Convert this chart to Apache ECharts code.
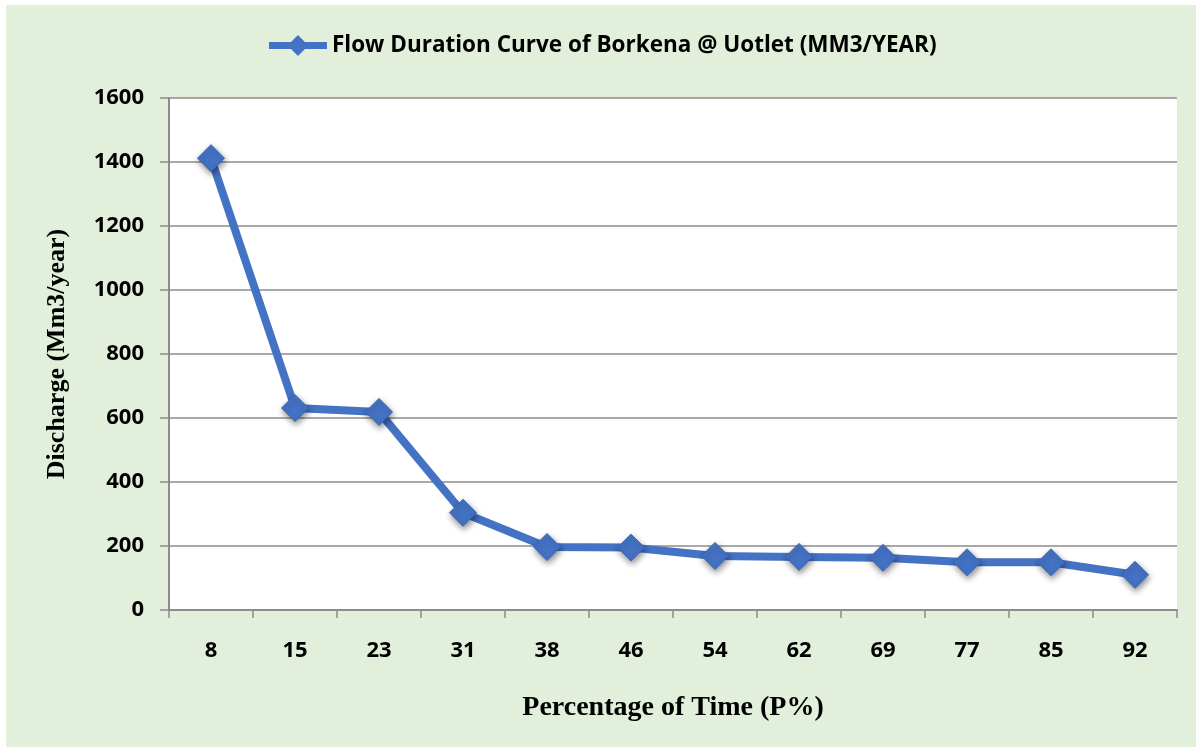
<!DOCTYPE html>
<html>
<head>
<meta charset="utf-8">
<script src="https://cdn.jsdelivr.net/npm/echarts@6/dist/echarts.min.js"></script>
<style>
  html, body { margin: 0; padding: 0; background: #ffffff; }
  #wrap { position: relative; width: 1196px; height: 747px; background: #ffffff; overflow: hidden; }
  #chart { position: absolute; left: 6px; top: 5px; width: 1190px; height: 742px; }
</style>
</head>
<body>
<div id="wrap"><div id="chart"></div></div>
<script>
// Percentage of time the flow is equalled or exceeded
const percentTime = ['8', '15', '23', '31', '38', '46', '54', '62', '69', '77', '85', '92'];
// Discharge at Borkena outlet (Mm3/year)
const discharge = [1412, 631, 619, 304, 197, 195, 169, 166, 163, 149, 149, 110];
// Value-axis range and step
const yMin = 0;
const yMax = 1600;
const yStep = 200;

const seriesName = 'Flow Duration Curve of Borkena @ Uotlet (MM3/YEAR)';
const blue = '#4472C4';
const gridGrey = '#8c8c8c';

const chart = echarts.init(document.getElementById('chart'), null, { renderer: 'canvas' });

chart.setOption({
  backgroundColor: '#E2EFDA',
  animation: false,
  legend: {
    top: 24,
    left: 'center',
    itemWidth: 58,
    itemHeight: 26,
    itemGap: 4,
    data: [seriesName],
    lineStyle: { width: 7, color: blue },
    itemStyle: { color: blue, borderWidth: 0, shadowBlur: 0 },
    textStyle: {
      fontFamily: 'Open Sans',
      fontWeight: 'bold',
      fontSize: 22.5,
      color: '#000000'
    }
  },
  grid: {
    left: 163,
    right: 19,
    top: 93,
    bottom: 137,
    show: true,
    backgroundColor: '#ffffff',
    borderWidth: 0
  },
  xAxis: {
    type: 'category',
    data: percentTime,
    boundaryGap: true,
    name: 'Percentage of Time (P%)',
    nameLocation: 'middle',
    nameGap: 84,
    nameTextStyle: {
      fontFamily: 'Liberation Serif',
      fontWeight: 'bold',
      fontSize: 28,
      color: '#000000'
    },
    axisLine: { show: true, lineStyle: { color: gridGrey, width: 2 } },
    axisTick: { show: true, length: 8, lineStyle: { color: gridGrey, width: 1.5 } },
    axisLabel: {
      margin: 30,
      fontFamily: 'Open Sans',
      fontWeight: 'bold',
      fontSize: 22,
      color: '#000000'
    },
    splitLine: {
      show: true,
      interval: function (index) { return index === 10; },
      lineStyle: { color: '#dce9d4', width: 1 }
    }
  },
  yAxis: {
    type: 'value',
    min: yMin,
    max: yMax,
    interval: yStep,
    name: 'Discharge (Mm3/year)',
    nameLocation: 'middle',
    nameGap: 99,
    nameRotate: 90,
    nameTextStyle: {
      fontFamily: 'Liberation Serif',
      fontWeight: 'bold',
      fontSize: 26,
      color: '#000000'
    },
    axisLine: { show: true, lineStyle: { color: gridGrey, width: 2 } },
    axisTick: { show: true, length: 9, lineStyle: { color: gridGrey, width: 1.5 } },
    axisLabel: {
      margin: 25,
      fontFamily: 'Open Sans',
      fontWeight: 'bold',
      fontSize: 22,
      color: '#000000',
      formatter: function (v) { return String(v); }
    },
    splitLine: { show: true, lineStyle: { color: gridGrey, width: 1.5 } }
  },
  series: [{
    name: seriesName,
    type: 'line',
    data: discharge,
    symbol: 'diamond',
    symbolSize: 27,
    showAllSymbol: true,
    lineStyle: { color: blue, width: 8 },
    itemStyle: {
      color: blue,
      borderColor: '#3b67b8',
      borderWidth: 1,
      shadowBlur: 6,
      shadowColor: 'rgba(0,0,0,0.45)',
      shadowOffsetX: 1,
      shadowOffsetY: 3
    }
  }]
});
</script>
</body>
</html>
